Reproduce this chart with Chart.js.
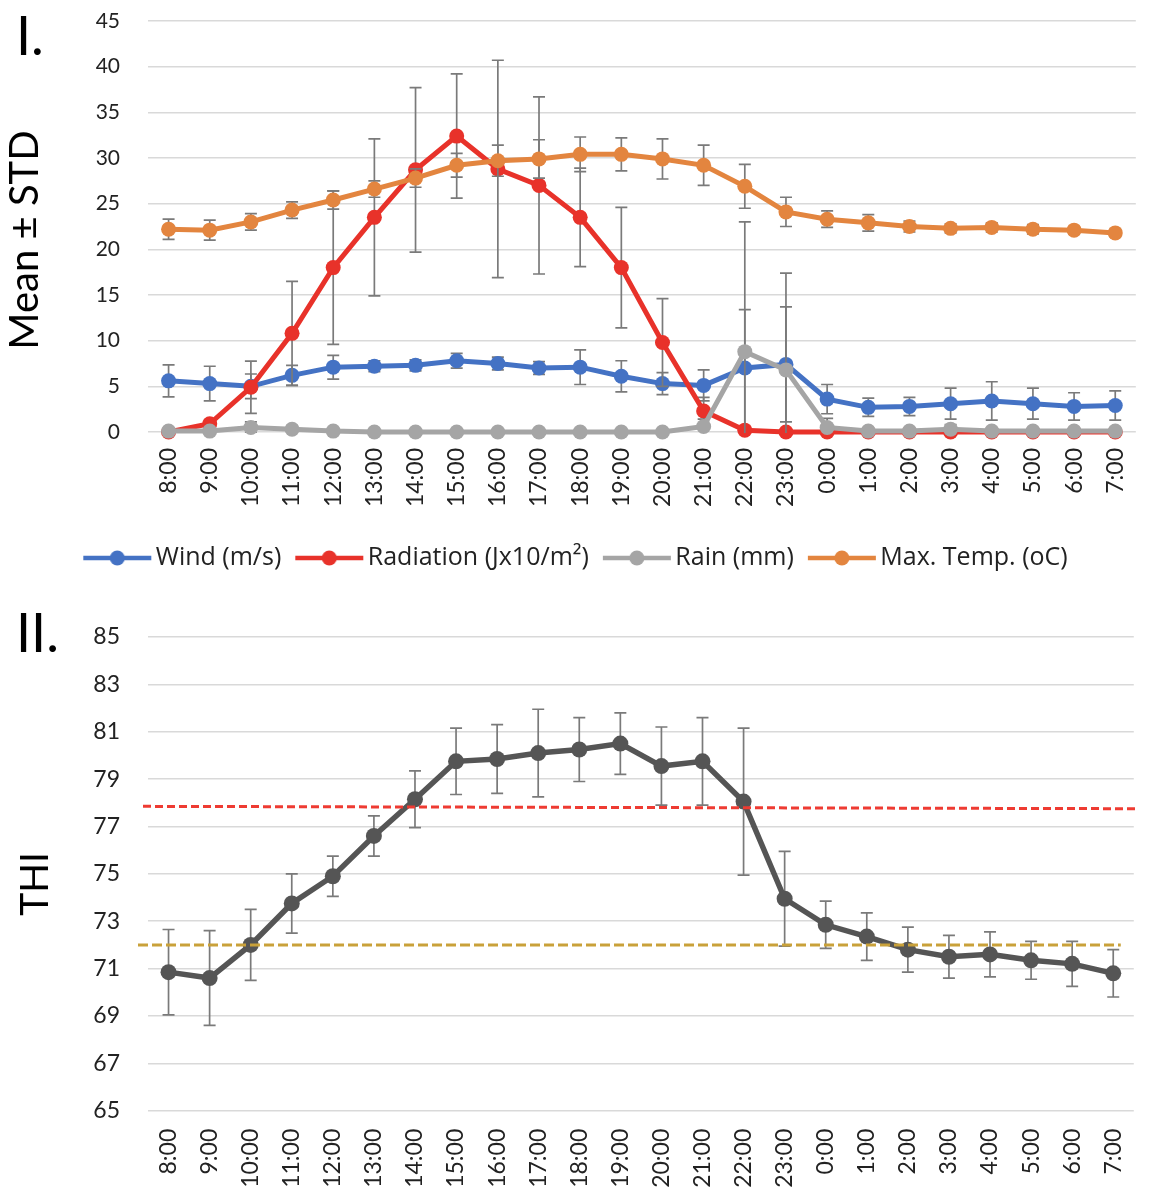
<!DOCTYPE html>
<html>
<head>
<meta charset="utf-8">
<script src="https://cdn.jsdelivr.net/npm/chart.js@4.4.1/dist/chart.umd.min.js"></script>
<style>
  html, body { margin: 0; padding: 0; background: #ffffff; }
  #wrap { position: relative; width: 1159px; height: 1188px; overflow: hidden; }
  #c1 { position: absolute; left: 0; top: 0; }
  #c2 { position: absolute; left: 0; top: 600px; }
</style>
</head>
<body>
<div id="wrap">
  <canvas id="c1" width="1159" height="600"></canvas>
  <canvas id="c2" width="1159" height="588"></canvas>
</div>
<script>
// ---------------- DATA ----------------
const hours = ['8:00','9:00','10:00','11:00','12:00','13:00','14:00','15:00','16:00','17:00','18:00','19:00',
               '20:00','21:00','22:00','23:00','0:00','1:00','2:00','3:00','4:00','5:00','6:00','7:00'];

const windMean      = [5.6, 5.3, 5.0, 6.2, 7.1, 7.2, 7.3, 7.8, 7.5, 7.0, 7.1, 6.1, 5.3, 5.1, 7.0, 7.4, 3.6, 2.7, 2.8, 3.1, 3.4, 3.1, 2.8, 2.9];
const windSD        = [1.75, 1.9, 1.35, 1.1, 1.3, 0.6, 0.6, 0.8, 0.7, 0.7, 1.9, 1.7, 1.2, 1.7, 6.4, 6.3, 1.6, 1.0, 1.0, 1.7, 2.1, 1.7, 1.5, 1.6];

const radiationMean = [0, 0.9, 4.9, 10.8, 18.0, 23.5, 28.7, 32.4, 28.8, 27.0, 23.5, 18.0, 9.8, 2.3, 0.2, 0, 0, 0, 0, 0, 0, 0, 0, 0];
const radiationSD   = [0, 0.4, 2.85, 5.7, 8.4, 8.6, 9.0, 6.8, 11.9, 9.7, 5.4, 6.6, 4.8, 1.5, 0.3, 0, 0, 0, 0, 0, 0, 0, 0, 0];

const rainMean      = [0.1, 0.1, 0.5, 0.3, 0.1, 0, 0, 0, 0, 0, 0, 0, 0, 0.6, 8.8, 6.8, 0.5, 0.1, 0.1, 0.3, 0.1, 0.1, 0.1, 0.1];
const rainSD        = [0.2, 0.2, 0.6, 0.4, 0.2, 0, 0, 0, 0, 0, 0, 0, 0, 0.8, 14.2, 10.6, 1.0, 0.2, 0.2, 0.5, 0.2, 0.2, 0.2, 0.2];

const maxTempMean   = [22.2, 22.1, 23.0, 24.3, 25.4, 26.6, 27.8, 29.2, 29.7, 29.9, 30.4, 30.4, 29.9, 29.2, 26.9, 24.1, 23.3, 22.9, 22.5, 22.3, 22.4, 22.2, 22.1, 21.8];
const maxTempSD     = [1.1, 1.1, 0.9, 0.9, 1.0, 0.9, 1.0, 1.3, 1.7, 2.1, 1.9, 1.8, 2.2, 2.2, 2.4, 1.6, 0.9, 0.9, 0.6, 0.5, 0.5, 0.5, 0.4, 0.4];

const thiMean       = [70.85, 70.6, 72.0, 73.75, 74.9, 76.6, 78.15, 79.75, 79.85, 80.1, 80.25, 80.5, 79.55, 79.75, 78.05, 73.95, 72.85, 72.35, 71.8, 71.5, 71.6, 71.35, 71.2, 70.8];
const thiSD         = [1.8, 2.0, 1.5, 1.25, 0.85, 0.85, 1.2, 1.4, 1.45, 1.85, 1.35, 1.3, 1.65, 1.85, 3.1, 2.0, 1.0, 1.0, 0.95, 0.9, 0.95, 0.8, 0.95, 1.0];

const heatStressLine = [77.85, 77.75];   // start, end value of red dashed line
const comfortLine    = [72.0, 72.0];     // start, end value of gold dashed line

const topAxis    = { min: 0,  max: 45, step: 5 };
const bottomAxis = { min: 65, max: 85, step: 2 };

const seriesNames = ['Wind (m/s)', 'Radiation (Jx10/m\u00B2)', 'Rain (mm)', 'Max. Temp. (oC)'];

// ---------------- STYLE ----------------
const C_WIND = '#4472C4', C_RAD = '#E8322A', C_RAIN = '#A5A5A5', C_TEMP = '#E3853F', C_THI = '#555555';
const GRID = '#D9D9D9', TICK = '#222222';

Chart.defaults.font.family = 'Lato';
Chart.defaults.color = TICK;
Chart.defaults.animation = false;

// error bars drawn through the value scale, under each series
const errorBars = {
  id: 'errorBars',
  beforeDatasetDraw(chart, args, opts) {
    const ds = chart.data.datasets[args.index];
    if (!ds.errors) return;
    const yScale = chart.scales[args.meta.yAxisID];
    const ca = chart.chartArea;
    const ctx = chart.ctx;
    ctx.save();
    ctx.beginPath();
    ctx.rect(ca.left - 20, ca.top - 2, ca.width + 40, ca.height + 3);
    ctx.clip();
    ctx.strokeStyle = opts.color;
    ctx.lineWidth = opts.width;
    args.meta.data.forEach((pt, i) => {
      const sd = ds.errors[i];
      if (!sd) return;
      const v = ds.data[i];
      const yt = yScale.getPixelForValue(v + sd);
      const yb = yScale.getPixelForValue(v - sd);
      ctx.beginPath();
      ctx.moveTo(pt.x, yt); ctx.lineTo(pt.x, yb);
      ctx.moveTo(pt.x - opts.cap, yt); ctx.lineTo(pt.x + opts.cap, yt);
      ctx.moveTo(pt.x - opts.cap, yb); ctx.lineTo(pt.x + opts.cap, yb);
      ctx.stroke();
    });
    ctx.restore();
  }
};

const panelText = {
  id: 'panelText',
  afterDraw(chart, args, o) {
    const ctx = chart.ctx;
    ctx.save();
    ctx.fillStyle = '#000';
    ctx.textBaseline = 'alphabetic';
    ctx.font = o.labelFont;
    ctx.textAlign = 'left';
    ctx.fillText(o.label, o.labelX, o.labelY);
    ctx.font = o.titleFont;
    ctx.translate(o.titleX, o.titleY);
    ctx.rotate(-Math.PI / 2);
    ctx.textAlign = 'center';
    ctx.fillText(o.title, 0, 0);
    ctx.restore();
  }
};

const thresholds = {
  id: 'thresholds',
  afterDatasetsDraw(chart, args, opts) {
    const { ctx, chartArea: ca, scales: { y } } = chart;
    opts.lines.forEach(l => {
      ctx.save();
      ctx.strokeStyle = l.color;
      ctx.lineWidth = l.width;
      ctx.setLineDash(l.dash);
      ctx.beginPath();
      ctx.moveTo(ca.left + l.from, y.getPixelForValue(l.values[0]));
      ctx.lineTo(ca.right + l.to, y.getPixelForValue(l.values[1]));
      ctx.stroke();
      ctx.restore();
    });
  }
};

function legendMarker(color) {
  const c = document.createElement('canvas');
  c.width = 76; c.height = 20;
  const g = c.getContext('2d');
  g.strokeStyle = color; g.lineWidth = 4.5;
  g.beginPath(); g.moveTo(6, 10); g.lineTo(74, 10); g.stroke();
  g.fillStyle = color;
  g.beginPath(); g.arc(40, 10, 7.5, 0, Math.PI * 2); g.fill();
  return c;
}
const markers = [legendMarker(C_WIND), legendMarker(C_RAD), legendMarker(C_RAIN), legendMarker(C_TEMP)];

function lineSeries(label, data, errors, color, order) {
  return {
    label, data, errors, order,
    borderColor: color, backgroundColor: color,
    pointBackgroundColor: color, pointBorderColor: color,
    borderWidth: 5, pointRadius: 7.5, pointBorderWidth: 0, pointHoverRadius: 7.5,
    tension: 0, clip: false
  };
}

function yScaleOpts(axis, fontSize) {
  return {
    min: axis.min, max: axis.max,
    grid: { color: GRID, lineWidth: 1.5, drawTicks: true, tickLength: 20, tickColor: 'rgba(0,0,0,0)' },
    border: { display: false },
    ticks: { stepSize: axis.step, padding: 8, font: { size: fontSize }, color: TICK },
    afterFit(s) { s.width = 148; }
  };
}

// ---------------- TOP CHART ----------------
new Chart(document.getElementById('c1'), {
  type: 'line',
  data: {
    labels: hours,
    datasets: [
      lineSeries(seriesNames[0], windMean, windSD, C_WIND, 4),
      lineSeries(seriesNames[1], radiationMean, radiationSD, C_RAD, 3),
      lineSeries(seriesNames[2], rainMean, rainSD, C_RAIN, 2),
      lineSeries(seriesNames[3], maxTempMean, maxTempSD, C_TEMP, 1)
    ]
  },
  options: {
    responsive: false,
    animation: false,
    layout: { padding: { top: 21, left: 0, right: 4, bottom: 19.5 } },
    scales: {
      x: {
        offset: true,
        grid: { display: false, drawTicks: false },
        border: { display: false },
        ticks: { autoSkip: false, maxRotation: 90, minRotation: 90, padding: 16, font: { size: 23 }, color: TICK },
        afterFit(s) { s.height = 95.5; }
      },
      y: yScaleOpts(topAxis, 21)
    },
    plugins: {
      tooltip: { enabled: false },
      legend: {
        position: 'bottom',
        labels: {
          usePointStyle: true,
          pointStyleWidth: 56,
          padding: 18,
          color: '#222222',
          font: { family: 'Open Sans', size: 25 },
          sort: (a, b) => a.datasetIndex - b.datasetIndex,
          generateLabels(chart) {
            const items = Chart.defaults.plugins.legend.labels.generateLabels(chart);
            items.forEach(it => { it.pointStyle = markers[it.datasetIndex]; });
            return items;
          }
        }
      },
      errorBars: { color: '#7A7A7A', width: 1.7, cap: 6 },
      panelText: { label: 'I.', labelX: 16, labelY: 55, labelFont: '54px Lato',
                   title: 'Mean \u00B1 STD', titleX: 38, titleY: 240, titleFont: '40px Lato' }
    }
  },
  plugins: [errorBars, panelText]
});

// ---------------- BOTTOM CHART ----------------
new Chart(document.getElementById('c2'), {
  type: 'line',
  data: {
    labels: hours,
    datasets: [
      Object.assign(lineSeries('THI', thiMean, thiSD, C_THI, 1), { borderWidth: 5.5, pointRadius: 8, pointHoverRadius: 8 })
    ]
  },
  options: {
    responsive: false,
    animation: false,
    layout: { padding: { top: 37, left: 0, right: 4, bottom: 0 } },
    scales: {
      x: {
        offset: true,
        grid: { display: false, drawTicks: false },
        border: { display: false },
        ticks: { autoSkip: false, maxRotation: 90, minRotation: 90, padding: 18, font: { size: 23 }, color: TICK },
        afterFit(s) { s.height = 77.3; }
      },
      y: yScaleOpts(bottomAxis, 23)
    },
    plugins: {
      tooltip: { enabled: false },
      legend: { display: false },
      errorBars: { color: '#7A7A7A', width: 1.7, cap: 6 },
      thresholds: {
        lines: [
          { values: heatStressLine, color: '#EE3B32', width: 3, dash: [8, 4], from: -5, to: 4 },
          { values: comfortLine, color: '#C9A13A', width: 3, dash: [10, 4], from: -10, to: -13 }
        ]
      },
      panelText: { label: 'II.', labelX: 16, labelY: 52, labelFont: '54px Lato',
                   title: 'THI', titleX: 48, titleY: 284, titleFont: '39px Lato' }
    }
  },
  plugins: [errorBars, thresholds, panelText]
});
</script>
</body>
</html>
